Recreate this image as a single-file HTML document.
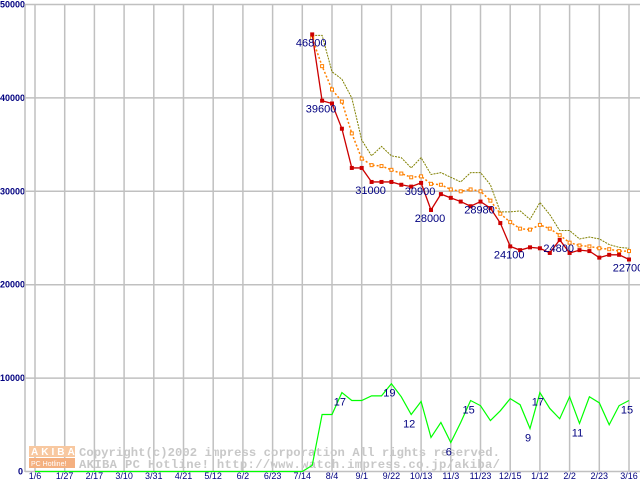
<!DOCTYPE html>
<html><head><meta charset="utf-8"><style>
body{margin:0;background:#fff}
svg{display:block;font-family:"Liberation Sans","DejaVu Sans",sans-serif}
</style></head><body>
<svg id="chart" width="640" height="480" viewBox="0 0 640 480" xmlns="http://www.w3.org/2000/svg">
<g id="grid"></g>
<g id="wm">
  <rect x="29" y="446" width="46" height="11" fill="#f8c8a0"/>
  <rect x="29" y="458" width="46" height="10" fill="#f4b080"/>
  <text x="31" y="455" font-size="10" fill="#fff" font-weight="bold" letter-spacing="3">AKIBA</text>
  <text x="31" y="466" font-size="7" fill="#fff">PC Hotline!</text>
  <text x="79" y="456" font-size="12.2" fill="#c8c8c8" font-weight="bold" font-family="Liberation Mono,monospace" textLength="421" lengthAdjust="spacing">Copyright(c)2002 impress corporation All rights reserved.</text>
  <text x="79" y="468" font-size="12.2" fill="#c8c8c8" font-weight="bold" font-family="Liberation Mono,monospace" textLength="421" lengthAdjust="spacing">AKIBA PC Hotline!  http://www.watch.impress.co.jp/akiba/</text>
</g>
<g id="series"></g>
<g id="labels"></g>
</svg>
<script>
const xTicks=["1/6","1/27","2/17","3/10","3/31","4/21","5/12","6/2","6/23","7/14","8/4","9/1","9/22","10/13","11/3","11/23","12/15","1/12","2/2","2/23","3/16"];
const yTicks=[0,10000,20000,30000,40000,50000];
const startWeek=28;
const minPrice=[46800,39700,39400,36700,32500,32500,31000,31000,31000,30700,30500,30900,28000,29700,29300,28900,28400,28900,28200,26600,24100,23700,24000,23900,23400,24800,23400,23700,23600,22900,23200,23200,22700];
const avgPrice=[46400,43400,40900,39600,36200,33500,32800,32700,32300,31900,31500,31600,30800,30700,30200,30000,30200,30000,29000,27600,26700,26000,25900,26400,26000,25300,24500,24200,24100,23900,23800,23600,23600];
const maxPrice=[46700,46700,42800,42000,40000,35500,33800,34800,33800,33600,32500,33600,31800,32000,31500,31000,32000,32000,30700,27800,27800,27900,27000,28800,27500,25800,25800,24900,25100,24900,24300,24000,23900];
const shopCount=[1.3,12.2,12.2,16.9,15.2,15.2,16.2,16.2,18.8,16,12.2,15,7.3,10.5,6.2,10.5,15.2,14.1,10.9,13,15.6,14.3,9.2,16.9,13.5,11.3,16,10.3,16,14.7,10,14.1,15.2];
const priceLabels=[[0,"46800"],[1,"39600"],[6,"31000"],[11,"30900"],[12,"28000"],[17,"28980"],[20,"24100"],[25,"24800"],[32,"22700"]];
const countLabels=[[3,"17"],[8,"19"],[10,"12"],[14,"6"],[16,"15"],[22,"9"],[23,"17"],[27,"11"],[32,"15"]];
const NS="http://www.w3.org/2000/svg";
const X=w=>35+w*9.9;
const Y=v=>471.5-v*0.009340;
function mk(tag,attrs,parent){const e=document.createElementNS(NS,tag);for(const k in attrs)e.setAttribute(k,attrs[k]);parent.appendChild(e);return e;}
const grid=document.getElementById('grid'),ser=document.getElementById('series'),lab=document.getElementById('labels');
yTicks.forEach(v=>{
  const l=mk('line',{x1:25,x2:640,y1:Y(v),y2:Y(v),stroke:'#c0c0c0','stroke-width':1.5},grid);
  
  
  const t=mk('text',{x:v===0?18:0,y:Y(v)+3,'font-size':9,'font-weight':'bold',fill:'#000080'},grid);
  
  
  t.textContent=String(v);
});
xTicks.forEach((s,i)=>{
  const x=X(i*3);
  const l=mk('line',{x1:x,x2:x,y1:4,y2:471,stroke:'#c0c0c0','stroke-width':1.5},grid);
  
  
  const t=mk('text',{x:x,y:479,'font-size':9,'text-anchor':'middle',fill:'#000080'},grid);
  
  
  t.textContent=s;
});
const ax=mk('line',{x1:25,x2:25,y1:4,y2:472,stroke:'#c0c0c0','stroke-width':1.5},grid);


function pts(arr,f){return arr.map((v,i)=>X(startWeek+i)+','+Y(f?f(v):v)).join(' ');}
let g='';for(let w=0;w<startWeek;w++)g+=X(w)+','+Y(0)+' ';g+=pts(shopCount,c=>c*500);
const gl=mk('polyline',{points:g,fill:'none',stroke:'#00ff00','stroke-width':1.2},ser);


const ml=mk('polyline',{points:pts(maxPrice),fill:'none',stroke:'#808000','stroke-width':1,'stroke-dasharray':'2,1'},ser);


const al=mk('polyline',{points:pts(avgPrice),fill:'none',stroke:'#ff8000','stroke-width':1.5,'stroke-dasharray':'2,2'},ser);


avgPrice.forEach((v,i)=>{const r=mk('rect',{x:X(startWeek+i)-1.5,y:Y(v)-1.5,width:3,height:3,fill:'#fff',stroke:'#ff8000','stroke-width':1},ser);
  
  });
const rl=mk('polyline',{points:pts(minPrice),fill:'none',stroke:'#cc0000','stroke-width':1.3},ser);


minPrice.forEach((v,i)=>{const r=mk('rect',{x:X(startWeek+i)-2,y:Y(v)-2,width:4,height:4,fill:'#cc0000'},ser);
  
  });
priceLabels.forEach(([i,s])=>{const t=mk('text',{x:X(startWeek+i)-1,y:Y(minPrice[i])+12,'font-size':11,'text-anchor':'middle',fill:'#000080'},lab);
  
  
  t.textContent=s;});
countLabels.forEach(([i,s])=>{const t=mk('text',{x:X(startWeek+i)-2,y:Y(shopCount[i]*500)+13,'font-size':11,'text-anchor':'middle',fill:'#000080'},lab);
  
  
  t.textContent=s;});
</script>
</body></html>
